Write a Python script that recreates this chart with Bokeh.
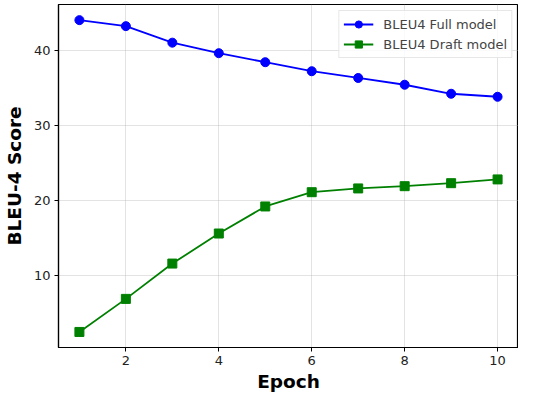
from bokeh.plotting import figure
from bokeh.embed import file_html
from bokeh.resources import INLINE
from bokeh.models import Range1d, FixedTicker

epochs = [1, 2, 3, 4, 5, 6, 7, 8, 9, 10]
bleu_full = [44.0, 43.2, 41.0, 39.6, 38.4, 37.2, 36.3, 35.4, 34.2, 33.8]
bleu_draft = [2.5, 6.9, 11.6, 15.6, 19.2, 21.1, 21.6, 21.9, 22.3, 22.8]
x_ticks = [2, 4, 6, 8, 10]
y_ticks = [10, 20, 30, 40]

FONT = "DejaVu Sans"

p = figure(width=518, height=394, output_backend="svg", toolbar_location=None,
           x_range=Range1d(0.55, 10.45), y_range=Range1d(0.43, 46.08),
           min_border_left=58, min_border_right=0, min_border_top=4, min_border_bottom=40)

p.line(epochs, bleu_full, color="#0000ff", line_width=1.8, legend_label="BLEU4 Full model")
p.scatter(epochs, bleu_full, marker="circle", size=9, color="#0000ff", legend_label="BLEU4 Full model")
p.line(epochs, bleu_draft, color="#008000", line_width=1.8, legend_label="BLEU4 Draft model")
p.scatter(epochs, bleu_draft, marker="square", size=9, color="#008000", legend_label="BLEU4 Draft model")

p.xaxis.ticker = FixedTicker(ticks=x_ticks)
p.yaxis.ticker = FixedTicker(ticks=y_ticks)
for ax in (p.xaxis[0], p.yaxis[0]):
    ax.major_label_text_font = FONT
    ax.major_label_text_font_size = "13px"
    ax.major_label_text_color = "#222222"
    ax.axis_label_text_font = FONT
    ax.axis_label_text_font_size = "18.5px"
    ax.axis_label_text_font_style = "bold"
    ax.axis_label_text_color = "black"
    ax.axis_line_color = "black"
    ax.axis_line_width = 1.2
    ax.major_tick_line_color = "black"
    ax.major_tick_out = 4
    ax.major_tick_in = 0
    ax.minor_tick_line_color = None
p.xaxis.axis_label = "Epoch"
p.yaxis.axis_label = "BLEU-4 Score"
p.xaxis.major_label_standoff = 4
p.yaxis.major_label_standoff = 4
p.xaxis.axis_label_standoff = 3
p.yaxis.axis_label_standoff = 6

p.grid.grid_line_color = "#b0b0b0"
p.grid.grid_line_alpha = 0.35
p.grid.grid_line_width = 1

p.outline_line_color = "black"
p.outline_line_width = 1.2
p.outline_line_alpha = 1

p.legend.location = "top_right"
p.legend.label_text_font = FONT
p.legend.label_text_font_size = "13px"
p.legend.label_height = 18
p.legend.glyph_height = 18
p.legend.glyph_width = 30
p.legend.label_standoff = 10
p.legend.spacing = 2
p.legend.padding = 4
p.legend.margin = 6
p.legend.border_line_color = "#d0d0d0"
p.legend.background_fill_alpha = 0.8

open("out.html", "w").write(file_html(p, INLINE))
